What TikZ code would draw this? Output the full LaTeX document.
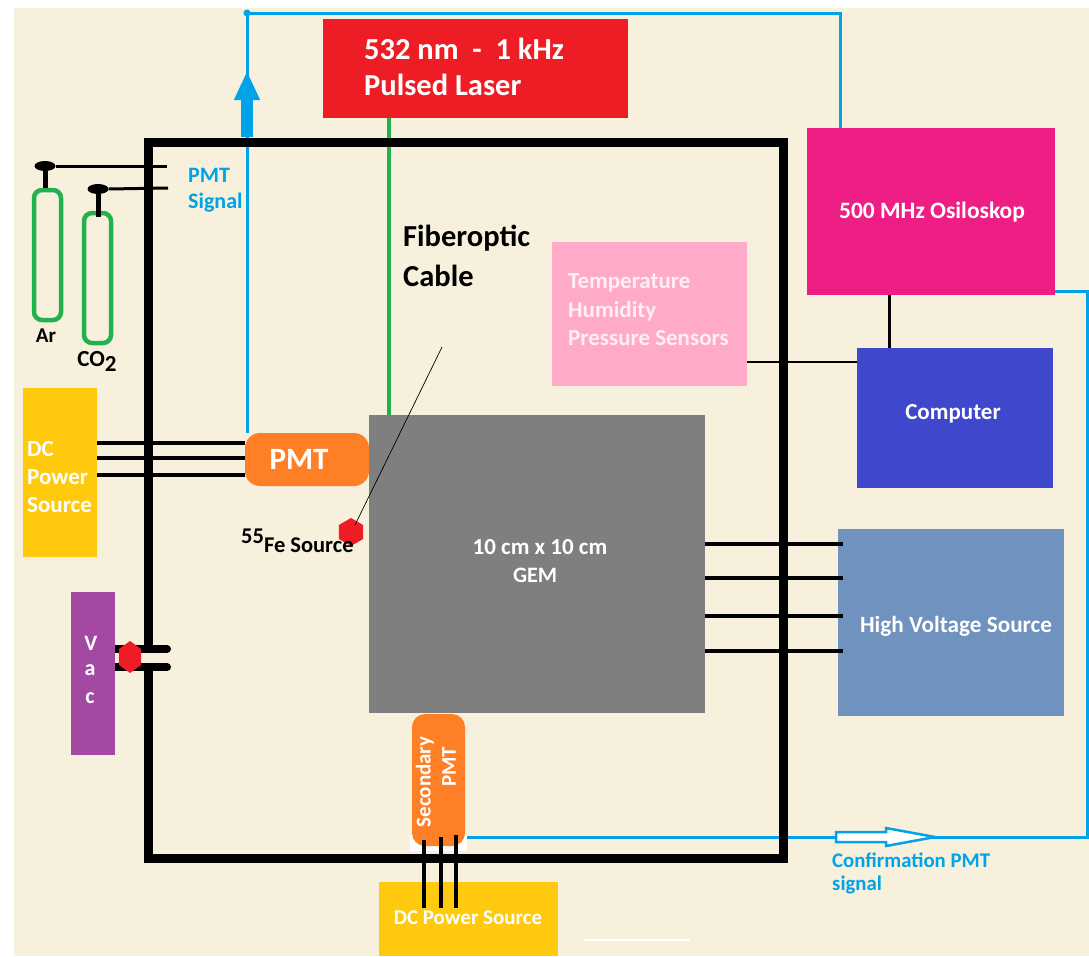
\documentclass[tikz,border=0pt]{standalone}
\usepackage{fontspec}
\setmainfont{Carlito}
\usepackage{tikz}
\usetikzlibrary{arrows.meta, shapes.geometric}

\definecolor{paper}{HTML}{F7F0DC}
\definecolor{laserred}{HTML}{EE1C25}
\definecolor{scopepink}{HTML}{EE1E84}
\definecolor{sensorpink}{HTML}{FFAAC9}
\definecolor{pcblue}{HTML}{3F48CC}
\definecolor{hvblue}{HTML}{7092BE}
\definecolor{gemgray}{HTML}{7F7F7F}
\definecolor{dcyellow}{HTML}{FFC90E}
\definecolor{vacpurple}{HTML}{A349A4}
\definecolor{pmtorange}{HTML}{FF7F27}
\definecolor{sigblue}{HTML}{00A2E8}
\definecolor{fibergreen}{HTML}{22B14C}

\newcommand{\fsz}[1]{\fontsize{#1}{#1}\selectfont\bfseries}

\tikzset{
  box/.style={inner sep=0pt, text=white, align=center},
  lbl/.style={inner sep=0pt, anchor=west, align=left},
  wire/.style={black, line width=3.5pt},
  sigwire/.style={sigblue, line width=3pt},
  gasbottle/.style={draw=fibergreen, line width=4.5pt, rounded corners=8pt, minimum width=27pt, inner sep=0pt},
  valve/.style={ellipse, fill=black, minimum width=21pt, minimum height=10pt, inner sep=0pt},
  hexnut/.style={regular polygon, regular polygon sides=6, shape border rotate=30, fill=laserred, inner sep=0pt}
}

\begin{document}
\begin{tikzpicture}[x=1pt, y=-1pt, >=stealth]
\useasboundingbox (0,0) rectangle (1089,956);

% Background
\fill[white] (0,0) rectangle (1089,956);
\fill[paper] (14,8) rectangle (1089,956);

% Corner points of the wires
\coordinate (sigtop) at (247,13);
\coordinate (sigturn) at (840,13);
\coordinate (fibertop) at (389,118);
\coordinate (scoperight) at (1087,291);
\coordinate (confbottom) at (1087,837);

% Boxes
\node[box, fill=laserred, minimum width=305pt, minimum height=99pt] (laser) at (475.5,68.5) {};
\node[box, fill=scopepink, minimum width=248pt, minimum height=167pt] (scope) at (931,211.5) {};
\node[box, fill=sensorpink, minimum width=195pt, minimum height=144pt] (sensors) at (649.5,314) {};
\node[box, fill=pcblue, minimum width=196pt, minimum height=140pt] (computer) at (955,418) {};
\node[box, fill=hvblue, minimum width=226pt, minimum height=187pt] (hv) at (951,622.5) {};
\node[box, fill=gemgray, minimum width=336pt, minimum height=298pt] (gem) at (537,564) {};
\node[box, fill=dcyellow, minimum width=74pt, minimum height=169pt] (dcleft) at (60,472.5) {};
\node[box, fill=dcyellow, minimum width=179pt, minimum height=74pt] (dcbottom) at (468.5,919) {};

% Signal and fibre lines
\draw[sigwire] (sigtop) -- (sigturn) -- (sigturn |- scope.north);
\draw[sigwire] (sigtop) -- (sigtop |- 0,433);
\fill[sigblue] (sigtop) circle (3.5pt);
\draw[fibergreen, line width=4.5pt] (fibertop) -- (fibertop |- gem.north);
\draw[sigwire] (scope.east |- scoperight) -- (scoperight) -- (confbottom) -- (465,837);
\draw[sigblue, line width=12pt, -{Triangle[width=24pt,length=29pt]}] (247,137) -- (247,71);

% Hollow arrow on the confirmation signal
\draw[sigblue, line width=2.5pt, fill=white] (836,832) -- (886,832) -- (886,828) -- (935,837)
    -- (886,846) -- (886,842) -- (836,842) -- cycle;

% Chamber wall
\draw[black, line width=9pt, line join=miter] (148,645) -- (148,142) -- (783,142) -- (783,858)
    -- (148,858) -- (148,671);

% White patch under the secondary PMT
\fill[white] (410,835) rectangle (467,851);

% PMTs
\node[box, fill=pmtorange, rounded corners=15pt, minimum width=124pt, minimum height=53pt] (pmt) at (307,459.5) {};
\node[box, fill=pmtorange, rounded corners=13pt, minimum width=53pt, minimum height=132pt] (secpmt) at (438.5,780) {};

% Gas bottles
\node[gasbottle, minimum height=130pt] (ar) at (47.5,255) {};
\node[gasbottle, minimum height=130pt] (co) at (97.5,278) {};
\node[valve] (arvalve) at (45,166) {};
\node[valve] (covalve) at (98,189) {};
\coordinate (arend) at (167,166);
\coordinate (coend) at (168,188);
\draw[black, line width=3pt] (arvalve) -- (arend);
\draw[black, line width=3pt] (covalve.east) -- (coend);
\draw[black, line width=5pt] (arvalve) -- (arvalve |- ar.north);
\draw[black, line width=5pt] (covalve) -- (98,217);

% Wires
\foreach \y in {443,458,475}
  \draw[wire] (dcleft.east |- 0,\y) -- (pmt.west |- 0,\y);
\foreach \y in {544,578,616,651}
  \draw[wire, line width=4pt] (gem.east |- 0,\y) -- (843,\y);
\foreach \x/\y in {424/840,441/837,456/835}
  \draw[wire] (\x,\y) -- (\x,908);
\draw[black, line width=3pt] (scope.south -| 889,0) -- (computer.north -| 889,0);
\draw[black, line width=2.5pt] (sensors.east |- 0,362) -- (computer.west |- 0,362);

% Vacuum feed
\foreach \y in {649,667}
  \draw[black, line width=8pt, line cap=round] (100,\y) -- (167,\y);
\node[box, fill=vacpurple, minimum width=44pt, minimum height=163pt] (vac) at (93,673.5) {};
\node[hexnut, minimum size=32pt, xscale=0.8] (vacnut) at (130,657) {};

% Iron source and its pointer
\node[hexnut, minimum size=28pt] (fenut) at (351,532) {};
\coordinate (pointer) at (442,347);
\draw[black, line width=0.7pt] (pointer) -- (355,525);

% Labels
\node[lbl, text=white, font=\fsz{30.5}] (lasertxt) at (364,49) {532 nm\ \ -\ \ 1 kHz};
\node[lbl, text=white, font=\fsz{30.5}] (lasertxtb) at (364,85) {Pulsed Laser};
\node[box, font=\fsz{23.5}] (scopet) at (932,212) {500 MHz Osiloskop};
\node[box, font=\fsz{23}] (pct) at (953,414) {Computer};
\node[box, font=\fsz{23.2}] (hvt) at (956,626) {High Voltage Source};
\node[lbl, text=sensorpink!20!white, font=\fsz{23}] (tempt) at (568,283) {Temperature};
\node[lbl, text=sensorpink!20!white, font=\fsz{23}] (humt) at (568,311) {Humidity};
\node[lbl, text=sensorpink!20!white, font=\fsz{23}] (prest) at (568,338) {Pressure Sensors};
\node[lbl, text=sigblue, font=\fsz{22}] (sigt) at (188,175) {PMT};
\node[lbl, text=sigblue, font=\fsz{22}] (sigtb) at (188,203) {Signal};
\node[lbl, font=\fsz{30.5}] (fibt) at (403,238) {Fiberoptic};
\node[lbl, font=\fsz{30.5}] (fibtb) at (403,276) {Cable};
\node[box, text=black, font=\fsz{21}] (art) at (46,336) {Ar};
\node[box, text=black, font=\fsz{23}] (cot) at (97,361) {CO\raisebox{-5pt}{2}};
\node[lbl, text=white, font=\fsz{23}] (dct) at (27,449) {DC};
\node[lbl, text=white, font=\fsz{23}] (dctb) at (27,477) {Power};
\node[lbl, text=white, font=\fsz{23}] (dctc) at (27,505) {Source};
\node[box, font=\fsz{22}] (vact) at (91,643) {V};
\node[box, font=\fsz{22}] (vactb) at (90,670) {a};
\node[box, font=\fsz{22}] (vactc) at (90,698) {c};
\node[box, font=\fsz{31}] (pmtt) at (299,459) {PMT};
\node[lbl, font=\fsz{22.5}] (fet) at (241,541) {\raisebox{9pt}{55}Fe Source};
\node[box, font=\fsz{23}] (gemt) at (540,547) {10 cm x 10 cm};
\node[box, font=\fsz{22}] (gemtb) at (535,575) {GEM};
\node[box, rotate=90, font=\fsz{21}] (sect) at (425,782) {Secondary};
\node[box, rotate=90, font=\fsz{21}] (sectb) at (449,767) {PMT};
\node[box, font=\fsz{21}] (dcbt) at (468,918) {DC Power Source};
\node[lbl, text=sigblue, font=\fsz{20.8}] (conft) at (832,860) {Confirmation PMT};
\node[lbl, text=sigblue, font=\fsz{20.8}] (conftb) at (832,885) {signal};

% Stray white stroke
\draw[white, line width=1.2pt] (584,940) -- (690,940);

\end{tikzpicture}
\end{document}
